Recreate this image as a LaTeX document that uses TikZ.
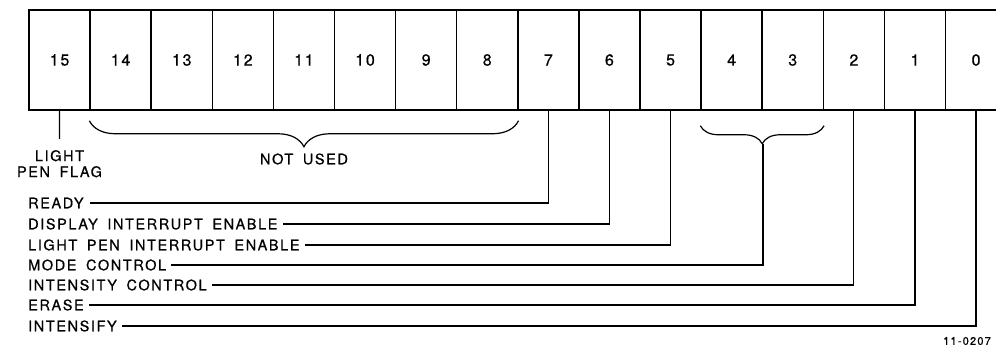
\documentclass[tikz,border=0pt]{standalone}
\usepackage{fontspec}
\setmainfont{TeX Gyre Heros}
\newfontfamily\lblfont[LetterSpace=11,WordSpace=1.7,FakeBold=0.6]{TeX Gyre Heros}
\usetikzlibrary{calc,decorations.pathreplacing}
\tikzset{
  bitbox/.style={draw, line width=1.5pt, minimum width=61.1pt, minimum height=100pt,
    inner sep=0pt, font=\fontsize{16}{16}\selectfont\lblfont},
  lbl/.style={anchor=west, inner sep=0pt, font=\fontsize{14.5}{16}\selectfont\lblfont},
  wire/.style={line width=1.2pt},
  curly/.style={wire, decorate, decoration={brace, mirror, amplitude=#1}}
}
\begin{document}
\begin{tikzpicture}[x=1pt,y=1pt]
	\useasboundingbox (0,0) rectangle (996,346);
	% the sixteen bits
	\foreach \k in {0,...,15}{
		\pgfmathtruncatemacro{\bit}{15-\k}
		\node[bitbox] (b\bit) at ({59.55+61.1*\k},286) {\bit};
	}
	% braces
	\draw[curly=26pt] ($(b14.south west)+(0,-10)$) -- ($(b8.south east)+(0,-10)$);
	\draw[curly=18pt] ($(b4.south west)+(0,-15)$) -- ($(b3.south east)+(0,-15)$);
	\coordinate (tip43) at ($(b4.south east)+(0,-33)$);
	% labels
	\node[lbl, anchor=north, align=center] (flag) at (59.5,196) {LIGHT\\PEN FLAG};
	\node[lbl, anchor=center] (notused) at (304,187) {NOT USED};
	\node[lbl] (ready) at (28,143) {READY};
	\node[lbl] (dintr) at (28,122) {DISPLAY INTERRUPT ENABLE};
	\node[lbl] (lpintr) at (28,101) {LIGHT PEN INTERRUPT ENABLE};
	\node[lbl] (mode) at (28,81) {MODE CONTROL};
	\node[lbl] (intctl) at (28,61) {INTENSITY CONTROL};
	\node[lbl] (erase) at (28,41) {ERASE};
	\node[lbl] (intfy) at (28,20) {INTENSIFY};
	\node[anchor=west, inner sep=0pt, font=\fontsize{11}{11}\selectfont\lblfont] (figno) at (943,5) {11-0207};
	% connectors
	\draw[wire, shorten >=11pt] (b15.south) -- (flag.north);
	\draw[wire, shorten >=6pt] (b7.south) |- (ready.east);
	\draw[wire, shorten >=5pt] (b6.south) |- (dintr.east);
	\draw[wire, shorten >=5pt] (b5.south) |- (lpintr.east);
	\draw[wire, shorten >=5pt] (tip43) |- (mode.east);
	\draw[wire, shorten >=5pt] (b2.south) |- (intctl.east);
	\draw[wire, shorten >=5pt] (b1.south) |- (erase.east);
	\draw[wire, shorten >=5pt] (b0.south) |- (intfy.east);
\end{tikzpicture}
\end{document}
